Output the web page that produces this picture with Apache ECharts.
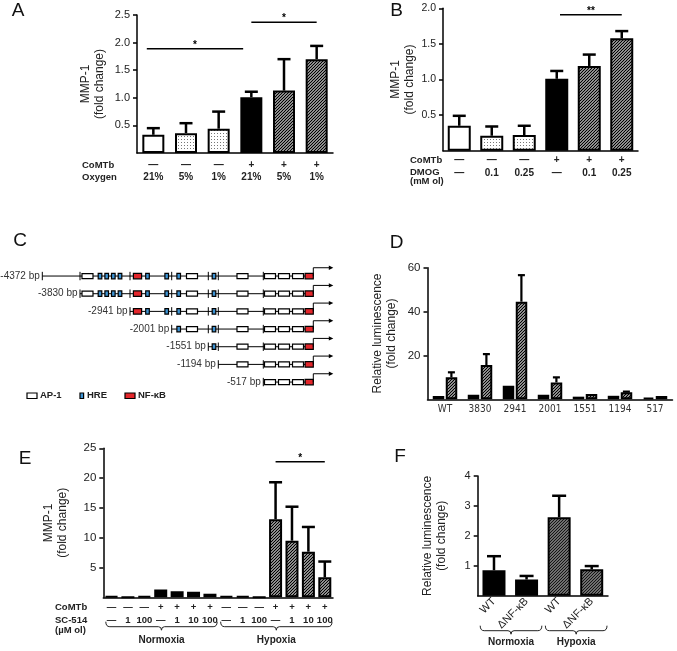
<!DOCTYPE html>
<html><head><meta charset="utf-8">
<script src="https://cdn.jsdelivr.net/npm/echarts@6/dist/echarts.min.js"></script>
<style>html,body{margin:0;padding:0;background:#fff}#c{width:677px;height:651px}</style>
</head><body><div id="c"></div>
<script>
// ---------- Panel A ----------
const aComtb = ['—','—','—','+','+','+'];
const aOxygen = ['21%','5%','1%','21%','5%','1%'];
const aMean = [0.33, 0.36, 0.44, 1.01, 1.13, 1.70];
const aUpper = [0.45, 0.54, 0.75, 1.11, 1.70, 1.94];
const aFill = ['white','dots','dots','black','hatch','hatch'];
const aSigFrom = [-0.2, 3];
const aSigTo = [2.75, 5];
const aSigY = [1.89, 2.37];
const aSigText = ['*','*'];
const aTicks = [0.5, 1, 1.5, 2, 2.5];

// ---------- Panel B ----------
const bComtb = ['—','—','—','+','+','+'];
const bDmog = ['—','0.1','0.25','—','0.1','0.25'];
const bMean = [0.35, 0.21, 0.22, 1.01, 1.19, 1.58];
const bUpper = [0.49, 0.34, 0.35, 1.12, 1.35, 1.68];
const bFill = ['white','dots','dots','black','hatch','hatch'];
const bSigFrom = [3.1];
const bSigTo = [5];
const bSigY = [1.91];
const bSigText = ['**'];
const bTicks = [0.5, 1, 1.5, 2];

// ---------- Panel C (schematic units, relative to transcription start) ----------
const cRowLabels = ['-4372 bp','-3830 bp','-2941 bp','-2001 bp','-1551 bp','-1194 bp','-517 bp'];
const cRowStart = [-271, -233.3, -183.3, -141.6, -105, -95, -50];
const cAP1 = [-225.8, -121.3, -70.8, -43.3, -29.3, -15.3];
const cHRE = [-213.3, -206.6, -200, -193.3, -165.8, -146.6, -134.6, -99.3];
const cNFkB = [-175.8, -4.1];
const cArrowEnd = 20;
const cLegend = ['AP-1','HRE','NF-κB'];

// ---------- Panel D ----------
const dCats = ['WT','3830','2941','2001','1551','1194','517'];
const dNormMean = [1.5, 2.1, 6.2, 2.1, 1.2, 1.6, 0.8];
const dHypMean = [10.0, 15.6, 44.5, 7.7, 2.4, 3.2, 1.5];
const dHypUpper = [12.3, 20.6, 56.6, 10.0, null, 3.5, null];
const dTicks = [20, 40, 60];

// ---------- Panel E ----------
const eComtb = ['—','—','—','+','+','+','+','—','—','—','+','+','+','+'];
const eSc514 = ['—','1','100','—','1','10','100','—','1','100','—','1','10','100'];
const eMean = [0.15, 0, 0.15, 1.3, 1.0, 0.95, 0.6, 0.15, 0.15, 0, 13.1, 9.5, 7.65, 3.35];
const eUpper = [null,null,null,null,null,null,null,null,null,null, 19.3, 15.2, 11.8, 6.0];
const eFill = ['white','white','white','black','black','black','black','white','white','white','hatch','hatch','hatch','hatch'];
const eGroups = ['Normoxia','Hypoxia'];
const eGroupFrom = [0, 7];
const eGroupTo = [6, 13];
const eSigFrom = [10];
const eSigTo = [13];
const eSigY = [22.75];
const eSigText = ['*'];
const eTicks = [5, 10, 15, 20, 25];

// ---------- Panel F ----------
const fCats = ['WT','ΔNF-κB','WT','ΔNF-κB'];
const fMean = [0.85, 0.54, 2.62, 0.88];
const fUpper = [1.32, 0.66, 3.34, 0.99];
const fFill = ['black','black','hatchF','hatchF'];
const fGroups = ['Normoxia','Hypoxia'];
const fGroupFrom = [0, 2];
const fGroupTo = [1, 3];
const fTicks = [1, 2, 3, 4];

// ---------- helpers ----------
const FONT = '"Liberation Sans", Arial, sans-serif';
const NARROW = '"Liberation Sans Narrow", "DejaVu Sans Condensed", "Liberation Sans", sans-serif';

function makeHatch(size, lw, fg, bg) {
  const c = document.createElement('canvas'); c.width = size; c.height = size;
  const g = c.getContext('2d');
  g.fillStyle = bg; g.fillRect(0, 0, size, size);
  g.strokeStyle = fg; g.lineWidth = lw; g.beginPath();
  g.moveTo(0, size); g.lineTo(size, 0);
  g.moveTo(-1, 1); g.lineTo(1, -1);
  g.moveTo(size - 1, size + 1); g.lineTo(size + 1, size - 1);
  g.stroke();
  return c;
}
function makeDots() {
  const c = document.createElement('canvas'); c.width = 3; c.height = 3;
  const g = c.getContext('2d');
  g.fillStyle = '#fff'; g.fillRect(0, 0, 3, 3);
  g.fillStyle = '#777'; g.fillRect(1, 1, 1, 1);
  return c;
}
const FILLS = {
  white: '#ffffff',
  black: '#000000',
  dots: { image: makeDots(), repeat: 'repeat' },
  hatch: { image: makeHatch(3, 1.3, '#000', '#fff'), repeat: 'repeat' },
  hatchF: { image: makeHatch(3, 1.2, '#111', '#9a9a9a'), repeat: 'repeat' }
};

function barSeries(gi, vals, fills, width, extra) {
  return Object.assign({
    type: 'bar', xAxisIndex: gi, yAxisIndex: gi, barWidth: width, silent: true, z: 2,
    data: vals.map((v, i) => ({ value: v, itemStyle: { color: FILLS[fills[i]] } })),
    itemStyle: { borderColor: '#000', borderWidth: 2 }
  }, extra || {});
}

function errSeries(gi, means, uppers, cap, offset, lw) {
  return {
    type: 'custom', xAxisIndex: gi, yAxisIndex: gi, silent: true, z: 3,
    data: means.map((m, i) => [i, m, uppers[i] == null ? NaN : uppers[i]]),
    renderItem(params, api) {
      const u = api.value(2);
      if (u == null || isNaN(u)) return null;
      const p0 = api.coord([api.value(0), api.value(1)]);
      const p1 = api.coord([api.value(0), u]);
      const x = p0[0] + offset;
      return { type: 'group', children: [
        { type: 'line', shape: { x1: x, y1: p0[1], x2: x, y2: p1[1] }, style: { stroke: '#000', lineWidth: lw } },
        { type: 'line', shape: { x1: x - cap / 2, y1: p1[1], x2: x + cap / 2, y2: p1[1] }, style: { stroke: '#000', lineWidth: lw } }
      ]};
    }
  };
}

function sigSeries(gi, from, to, ys, texts) {
  return {
    type: 'custom', xAxisIndex: gi, yAxisIndex: gi, silent: true, z: 5,
    data: ys.map(y => [0, y]),
    renderItem(params, api) {
      const k = params.dataIndex;
      const p = api.coord([0, ys[k]]);
      const w = api.size([1, 0])[0];
      const x1 = p[0] + from[k] * w, x2 = p[0] + to[k] * w;
      return { type: 'group', children: [
        { type: 'line', shape: { x1: x1, y1: p[1], x2: x2, y2: p[1] }, style: { stroke: '#000', lineWidth: 1.5 } },
        { type: 'text', x: (x1 + x2) / 2, y: p[1] - 3.5,
          style: { text: texts[k], fill: '#000', fontSize: 10, fontWeight: 'bold', fontFamily: FONT,
                   align: 'center', verticalAlign: 'middle', textAlign: 'center', textVerticalAlign: 'middle' } }
      ]};
    }
  };
}

function braceSeries(gi, names, from, to, dy, textDy) {
  return {
    type: 'custom', xAxisIndex: gi, yAxisIndex: gi, silent: true, z: 5,
    data: names.map((n, i) => [from[i], 0]),
    renderItem(params, api) {
      const k = params.dataIndex;
      const w = api.size([1, 0])[0];
      const a = api.coord([from[k], 0]), b = api.coord([to[k], 0]);
      const x1 = a[0] - w / 2 + 2.5, x2 = b[0] + w / 2 - 1, y = a[1] + dy, xm = (x1 + x2) / 2;
      const d = 'M' + x1 + ' ' + (y - 5) + ' Q' + x1 + ' ' + y + ' ' + (x1 + 4) + ' ' + y +
        ' L' + (xm - 3) + ' ' + y + ' Q' + xm + ' ' + y + ' ' + xm + ' ' + (y + 3.5) +
        ' Q' + xm + ' ' + y + ' ' + (xm + 3) + ' ' + y +
        ' L' + (x2 - 4) + ' ' + y + ' Q' + x2 + ' ' + y + ' ' + x2 + ' ' + (y - 5);
      return { type: 'group', children: [
        { type: 'path', shape: { pathData: d }, style: { stroke: '#222', lineWidth: 1, fill: null } },
        { type: 'text', x: xm, y: y + textDy,
          style: { text: names[k], fill: '#222', fontSize: 10, fontWeight: 'bold', fontFamily: FONT,
                   align: 'center', verticalAlign: 'middle', textAlign: 'center', textVerticalAlign: 'middle' } }
      ]};
    }
  };
}

function yAx(gi, max, interval, ticks, fmt, name, nameGap, fs) {
  return {
    type: 'value', gridIndex: gi, min: 0, max: max, interval: interval,
    axisLine: { show: true, lineStyle: { color: '#000', width: 1.5 } },
    axisTick: { show: true, length: 4, lineStyle: { color: '#000', width: 1.5 }, customValues: ticks },
    axisLabel: { customValues: ticks, fontSize: fs, color: '#222', fontFamily: FONT, margin: 7, formatter: fmt },
    splitLine: { show: false },
    name: name, nameLocation: 'middle', nameGap: nameGap,
    nameTextStyle: { fontSize: 12, lineHeight: 14, color: '#222', fontFamily: FONT }
  };
}

function xAx(gi, data, label) {
  return {
    type: 'category', gridIndex: gi, data: data,
    axisLine: { show: true, onZero: true, lineStyle: { color: '#000', width: 1.5 } },
    axisTick: { show: false },
    axisLabel: Object.assign({ interval: 0, color: '#222', fontFamily: FONT }, label),
    splitLine: { show: false }
  };
}

// ---------- Panel C renderer ----------
function cRender(params, api) {
  const i = params.dataIndex;
  const start = cRowStart[i];
  const y = api.coord([0, i])[1];
  const X = v => api.coord([v, i])[0];
  const ch = [];
  ch.push({ type: 'line', shape: { x1: X(start), y1: y, x2: X(0), y2: y }, style: { stroke: '#000', lineWidth: 1 } });
  cRowStart.forEach(s => {
    if (s >= start) ch.push({ type: 'line', shape: { x1: X(s), y1: y - 4.2, x2: X(s), y2: y + 4.2 }, style: { stroke: '#000', lineWidth: 1 } });
  });
  const box = (c, w, h, fill) => ch.push({ type: 'rect', shape: { x: X(c) - w / 2, y: y - h / 2, width: w, height: h },
    style: { fill: fill, stroke: '#000', lineWidth: 1.2 } });
  cAP1.forEach(p => { if (p > start) box(p, 11, 5, '#fff'); });
  cHRE.forEach(p => { if (p > start) box(p, 3.6, 5.5, '#3d93d3'); });
  cNFkB.forEach(p => { if (p > start) box(p, 8.2, 5.5, '#e3262b'); });
  const x0 = X(0), xe = X(cArrowEnd);
  ch.push({ type: 'polyline', shape: { points: [[x0, y], [x0, y - 8.3], [xe - 3, y - 8.3]] }, style: { stroke: '#000', lineWidth: 1, fill: null } });
  ch.push({ type: 'polygon', shape: { points: [[xe, y - 8.3], [xe - 4.5, y - 10.5], [xe - 4.5, y - 6.1]] }, style: { fill: '#000' } });
  ch.push({ type: 'text', x: X(start) - 2.5, y: y,
    style: { text: cRowLabels[i], fill: '#333', fontSize: 10, fontFamily: FONT,
             align: 'right', verticalAlign: 'middle', textAlign: 'right', textVerticalAlign: 'middle' } });
  return { type: 'group', children: ch };
}

// ---------- graphic text ----------
function gText(x, y, text, opts) {
  return { type: 'text', x: x, y: y, silent: true,
    style: Object.assign({ text: text, fill: '#222', fontFamily: FONT, fontSize: 9.5, fontWeight: 'bold',
      align: 'left', verticalAlign: 'middle', textAlign: 'left', textVerticalAlign: 'middle' }, opts || {}) };
}
function gRect(x, y, w, h, fill) {
  return { type: 'rect', silent: true, shape: { x: x, y: y, width: w, height: h }, style: { fill: fill, stroke: '#000', lineWidth: 1.2 } };
}
const letter = { fontSize: 19, fontWeight: 'normal', fill: '#111', align: 'center', textAlign: 'center' };

const graphics = [
  gText(18, 11, 'A', letter), gText(396.5, 11, 'B', letter), gText(20, 240.5, 'C', letter),
  gText(396.5, 243, 'D', letter), gText(25, 458.5, 'E', letter), gText(400, 457, 'F', letter),
  gText(82, 165, 'CoMTb'), gText(82, 177, 'Oxygen'),
  gText(410, 160, 'CoMTb'), gText(410, 172.7, 'DMOG'), gText(410, 181.7, '(mM ol)'),
  gText(55, 607.7, 'CoMTb'), gText(55, 620.3, 'SC-514'), gText(55, 630.7, '(µM ol)'),
  gRect(27, 393, 10, 5.5, '#fff'), gText(40, 395.7, cLegend[0], { fontSize: 9.5 }),
  gRect(80, 393, 3.6, 5.5, '#3d93d3'), gText(87, 395.7, cLegend[1], { fontSize: 9.5 }),
  gRect(125, 393, 10, 5.5, '#e3262b'), gText(138, 395.7, cLegend[2], { fontSize: 9.5 })
];

const chart = echarts.init(document.getElementById('c'), null, { renderer: 'canvas' });
chart.setOption({
  animation: false,
  backgroundColor: '#fff',
  textStyle: { fontFamily: FONT },
  grid: [
    { left: 137, top: 15, width: 196, height: 138 },
    { left: 443, top: 8.3, width: 195, height: 142.4 },
    { left: 0, top: 267.2, width: 340, height: 123.7 },
    { left: 427.5, top: 267.7, width: 245, height: 131.6 },
    { left: 103.3, top: 448.3, width: 229.7, height: 149 },
    { left: 477.7, top: 476, width: 130.3, height: 119.7 }
  ],
  xAxis: [
    xAx(0, aOxygen, { fontSize: 10, fontWeight: 'bold', lineHeight: 12, margin: 6, formatter: (v, i) => aComtb[i] + '\n' + aOxygen[i] }),
    xAx(1, bDmog, { fontSize: 10, fontWeight: 'bold', lineHeight: 12.7, margin: 3, formatter: (v, i) => bComtb[i] + '\n' + bDmog[i] }),
    { type: 'value', gridIndex: 2, min: -313.3, max: 26.7, show: false },
    xAx(3, dCats, { fontSize: 10, margin: 5, color: '#333', fontFamily: NARROW }),
    xAx(4, eSc514, { fontSize: 9.5, fontWeight: 'bold', lineHeight: 12.6, margin: 4, formatter: (v, i) => eComtb[i] + '\n' + eSc514[i] }),
    xAx(5, fCats, { fontSize: 11, rotate: 45, margin: 4, color: '#222' })
  ],
  yAxis: [
    yAx(0, 2.5, 0.5, aTicks, v => v.toFixed(1), 'MMP-1\n(fold change)', 30, 11),
    yAx(1, 2, 0.5, bTicks, v => v.toFixed(1), 'MMP-1\n(fold change)', 26.5, 10.5),
    { type: 'category', gridIndex: 2, data: cRowLabels, inverse: true, show: false },
    yAx(3, 60, 20, dTicks, v => String(v), 'Relative luminescence\n(fold change)', 29, 11.5),
    yAx(4, 25, 5, eTicks, v => String(v), 'MMP-1\n(fold change)', 33.5, 11.5),
    yAx(5, 4, 1, fTicks, v => String(v), 'Relative luminescence\n(fold change)', 29.5, 11)
  ],
  series: [
    // A
    barSeries(0, aMean, aFill, 22),
    errSeries(0, aMean, aUpper, 13, 0, 2.5),
    sigSeries(0, aSigFrom, aSigTo, aSigY, aSigText),
    // B
    barSeries(1, bMean, bFill, 23),
    errSeries(1, bMean, bUpper, 13, 0, 2.5),
    sigSeries(1, bSigFrom, bSigTo, bSigY, bSigText),
    // C
    { type: 'custom', xAxisIndex: 2, yAxisIndex: 2, silent: true, data: cRowLabels.map((l, i) => [0, i]), renderItem: cRender },
    // D
    barSeries(3, dNormMean, dCats.map(() => 'black'), 11.5, { barGap: '13%', barCategoryGap: '30%' }),
    barSeries(3, dHypMean, dCats.map(() => 'hatch'), 11.5, { barGap: '13%', barCategoryGap: '30%' }),
    errSeries(3, dHypMean, dHypUpper, 7, 6.4, 2.2),
    // E
    barSeries(4, eMean, eFill, 13),
    errSeries(4, eMean, eUpper, 13, 0, 2.5),
    sigSeries(4, eSigFrom, eSigTo, eSigY, eSigText),
    braceSeries(4, eGroups, eGroupFrom, eGroupTo, 29.4, 13.3),
    // F
    barSeries(5, fMean, fFill, 23),
    errSeries(5, fMean, fUpper, 14, 0, 2.5),
    braceSeries(5, fGroups, fGroupFrom, fGroupTo, 35, 11.5)
  ],
  graphic: graphics
});
</script>
</body></html>
